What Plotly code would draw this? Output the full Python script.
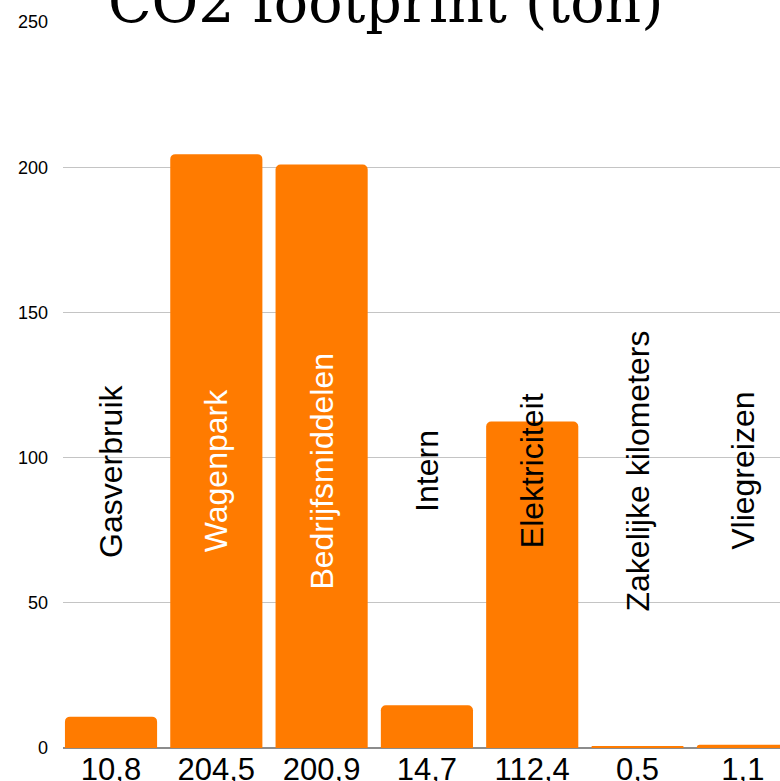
import plotly.graph_objects as go

categories = ["Gasverbruik", "Wagenpark", "Bedrijfsmiddelen", "Intern",
              "Elektriciteit", "Zakelijke kilometers", "Vliegreizen"]
values = [10.8, 204.5, 200.9, 14.7, 112.4, 0.5, 1.1]
y_ticks = [0, 50, 100, 150, 200, 250]
title_text = "CO2 footprint (ton)"

W, H = 780, 781
L, T, B = 63, 22, 33

x_idx = list(range(len(categories)))
tick_text = [f"{v:.1f}".replace(".", ",") for v in values]

fig = go.Figure()
fig.add_trace(go.Bar(
    x=x_idx, y=values,
    marker=dict(color="#ff7b00", line=dict(width=0), cornerradius=5),
    width=0.875,
    hoverinfo="skip",
))

label_y = 95.4
for i, (name, v) in enumerate(zip(categories, values)):
    fig.add_annotation(
        x=i, y=label_y, xref="x", yref="y", text=name, textangle=-90,
        showarrow=False,
        font=dict(family="Liberation Sans, Arial, sans-serif", size=32,
                  color="white" if v > 150 else "black"),
    )

fig.add_annotation(
    x=(385 - L) / (W - L), y=1, xref="paper", yref="paper",
    xanchor="center", yanchor="bottom", yshift=-15,
    text=title_text, showarrow=False,
    font=dict(family="DejaVu Serif, serif", size=57, color="black"),
)

fig.update_layout(
    width=W, height=H,
    margin=dict(l=L, r=0, t=T, b=B, pad=0),
    paper_bgcolor="white", plot_bgcolor="white",
    showlegend=False,
    xaxis=dict(
        range=[-0.456, 6.353], tickmode="array", tickvals=x_idx,
        ticktext=tick_text, showgrid=False, zeroline=False, showline=False,
        ticks="", ticklen=0, automargin=False,
        tickfont=dict(family="Liberation Sans, Arial, sans-serif",
                      size=31, color="black"),
    ),
    yaxis=dict(
        range=[0, 250], tickmode="array", tickvals=y_ticks,
        showgrid=True, gridcolor="#c4c4c4", gridwidth=1,
        zeroline=True, zerolinecolor="#8c8c8c", zerolinewidth=1.5,
        showline=False, ticks="", ticklen=0, automargin=False,
        tickfont=dict(family="Liberation Sans, Arial, sans-serif",
                      size=18, color="black"),
        ticklabelstandoff=14,
    ),
)

fig.write_html(
    "out.html",
    config={"displayModeBar": False},
    post_script="document.body.style.margin='0';document.body.style.overflow='hidden';",
)
